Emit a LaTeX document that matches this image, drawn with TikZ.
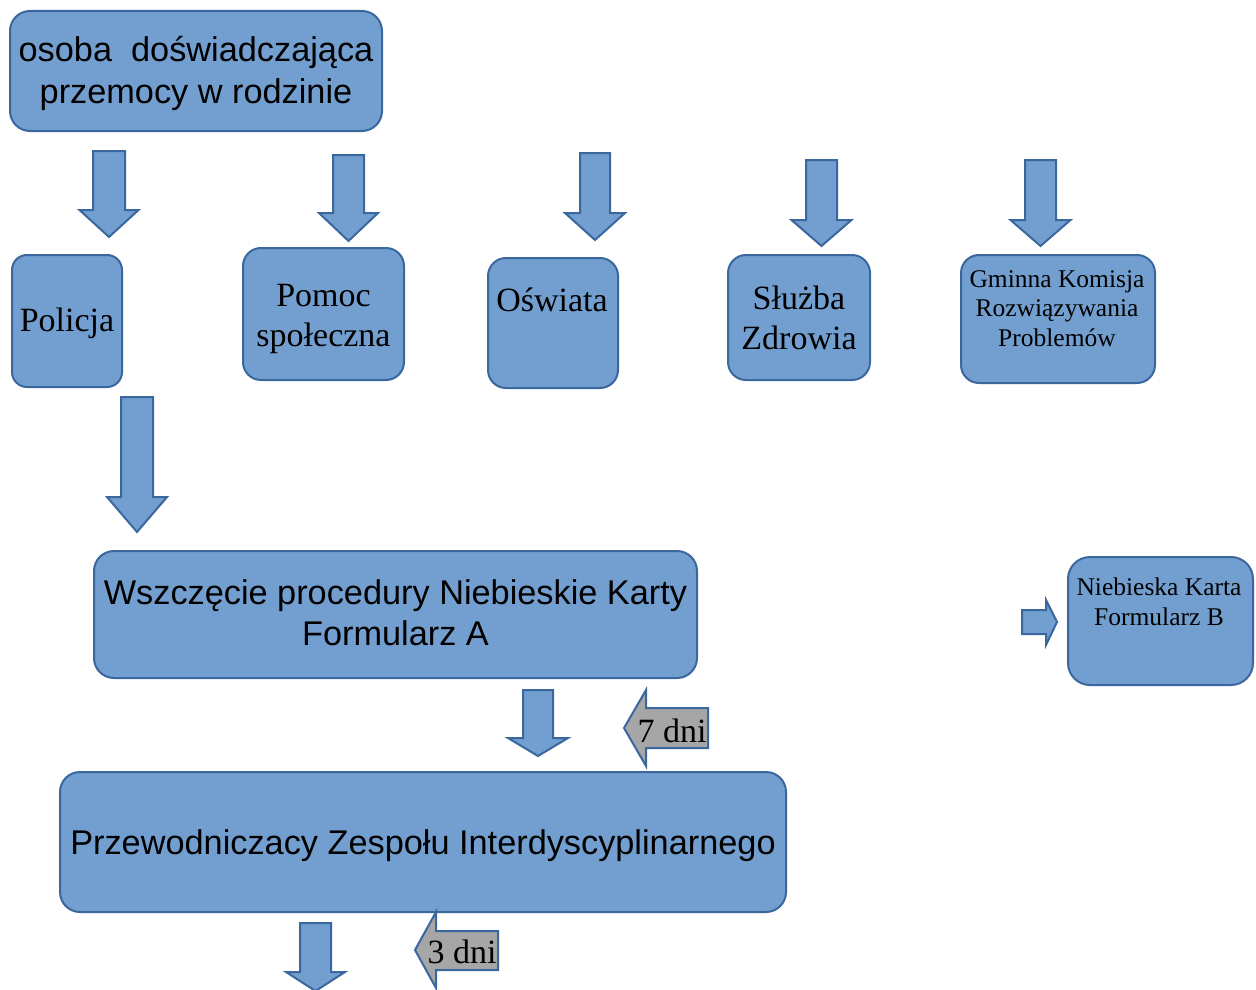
\documentclass[tikz,border=0pt]{standalone}
\usepackage{fontspec}
\setmainfont{Liberation Serif}
\newfontfamily\arialf{Liberation Sans}
\definecolor{boxfill}{RGB}{114,159,207}
\definecolor{boxline}{RGB}{58,103,158}
\definecolor{grayfill}{RGB}{166,166,166}
\tikzset{
  box/.style={draw=boxline, fill=boxfill, line width=2pt, rounded corners=18pt, anchor=north west, inner sep=0pt},
  barrow/.style={draw=boxline, fill=boxfill, line width=2pt, line join=miter},
  garrow/.style={draw=boxline, fill=grayfill, line width=2pt, line join=miter},
  bigsans/.style={font=\arialf\fontsize{34.3}{41}\selectfont},
  bigserif/.style={font=\fontsize{34}{40}\selectfont},
  smallserif/.style={font=\fontsize{25.5}{29.5}\selectfont},
  lbl/.style={inner sep=0pt, text=black, align=center}
}
% down block arrow: cx, top, head start, tip, shaft half width, head half width
\newcommand\blockdown[6]{%
  \draw[barrow] ({#1-#5},#2) -- ({#1+#5},#2) -- ({#1+#5},#3) -- ({#1+#6},#3) -- (#1,#4) -- ({#1-#6},#3) -- ({#1-#5},#3) -- cycle;}
\begin{document}
\begin{tikzpicture}[x=1pt,y=-1pt]
\useasboundingbox (0,0) rectangle (1256,990);

% boxes
\node[box, minimum width=372pt, minimum height=120pt, rounded corners=20pt] (osoba) at (9,10) {};
\node[lbl, bigsans, font=\arialf\fontsize{34.3}{42}\selectfont] (osoba-t) at ([yshift=-2pt]osoba.center) {osoba\ \ doświadczająca\\ przemocy w rodzinie};
\node[box, minimum width=110pt, minimum height=132pt, rounded corners=15pt] (policja) at (11,254) {};
\node[lbl, bigserif] (policja-t) at ([yshift=-2pt]policja.center) {Policja};
\node[box, minimum width=161pt, minimum height=132pt] (pomoc) at (242,247) {};
\node[lbl, bigserif] (pomoc-t) at ([yshift=-5pt]pomoc.center) {Pomoc\\ społeczna};
\node[box, minimum width=130pt, minimum height=130pt] (oswiata) at (487,257) {};
\node[lbl, bigserif, anchor=north] (oswiata-t) at (552,288) {Oświata};
\node[box, minimum width=142pt, minimum height=125pt] (sluzba) at (727,254) {};
\node[lbl, bigserif] (sluzba-t) at (sluzba.center) {Służba\\ Zdrowia};
\node[box, minimum width=194pt, minimum height=128pt] (gminna) at (960,254) {};
\node[lbl, smallserif, anchor=north] (gminna-t) at (1057,270) {Gminna Komisja\\ Rozwiązywania\\ Problemów};
\node[box, minimum width=603pt, minimum height=127pt, rounded corners=20pt] (wszczecie) at (93,550) {};
\node[lbl, bigsans] (wszczecie-t) at ([yshift=2pt]wszczecie.center) {Wszczęcie procedury Niebieskie Karty\\ Formularz A};
\node[box, minimum width=185pt, minimum height=128pt, rounded corners=22pt] (kartab) at (1067,556) {};
\node[lbl, smallserif, anchor=north] (kartab-t) at (1159,578) {Niebieska Karta\\ Formularz B};
\node[box, minimum width=726pt, minimum height=140pt, rounded corners=20pt] (przew) at (59,771) {};
\node[lbl, bigsans] (przew-t) at ([yshift=-4pt]przew.center) {Przewodniczacy Zespołu Interdyscyplinarnego};

% down block arrows
\blockdown{109}{151}{210}{237}{16}{29.5}
\blockdown{348.5}{155}{213}{241}{15.5}{29.5}
\blockdown{595}{153}{213}{240}{15}{30}
\blockdown{821.5}{160}{220}{246}{15.5}{30}
\blockdown{1040.5}{160}{220}{246}{15.5}{30}
\blockdown{137}{397}{497}{532}{16}{30}
\blockdown{538}{690}{738}{756}{15}{30}
\blockdown{315.5}{923}{972}{991}{15.5}{29.5}

% small right arrow
\draw[barrow] (1022,610) -- (1046,610) -- (1046,600) -- (1057,622) -- (1046,645) -- (1046,634) -- (1022,634) -- cycle;

% gray left arrows
\draw[garrow] (708,708) -- (646,708) -- (646,690) -- (624,728) -- (646,766) -- (646,748) -- (708,748) -- cycle;
\node[lbl, bigserif] (dni7) at (672,731) {7 dni};
\draw[garrow] (498,931) -- (436,931) -- (436,912) -- (415,950) -- (436,988) -- (436,970) -- (498,970) -- cycle;
\node[lbl, bigserif] (dni3) at (462,952) {3 dni};
\end{tikzpicture}
\end{document}
